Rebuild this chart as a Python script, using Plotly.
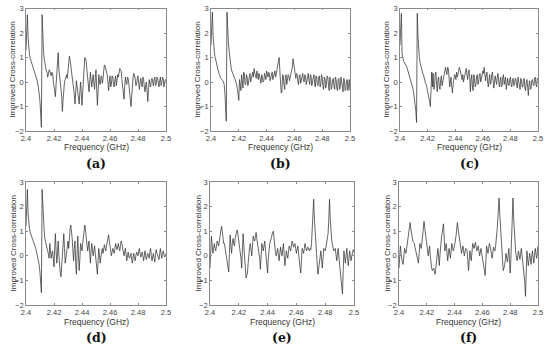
import plotly.graph_objects as go

W, H = 550, 351

# Frequency grid (GHz), 0.5 MHz step (201 samples)
freq = [round(2.4 + 0.0005 * i, 4) for i in range(201)]

# values read at the whole-MHz samples (2.400, 2.401, ... 2.500)
corr_a = [1.3, 2.75, 1.3, 0.97, 0.8, 0.6, 0.45, 0.3, 0.05, -0.25,
          -0.8, -1.85, 1.8, 0.95, 0.55, 0.4, 0.3, 0.45, 0.25, 0.35,
          -0.15, -0.6, 0.3, 1.2, 0.1, -0.3, -1.2, -0.2, 0.1, 0.3,
          0.55, 1.05, 0.7, 0.2, -0.3, -0.9, 0.05, -0.5, -0.9, 0.0,
          -0.95, 0.0, 1.0, 0.85, 0.2, -0.4, 0.4, -0.2, 0.3, -0.3,
          0.5, -0.95, 0.3, -0.1, 0.25, 0.1, 0.7, 0.55, 0.3, -0.35,
          0.25, -0.1, 0.2, -0.2, 0.25, 0.05, 0.2, 0.55, 0.45, -0.2,
          -0.7, 0.2, -0.1, 0.15, -0.3, -1.0, 0.0, 0.35, 0.15, -0.1,
          0.25, -0.3, 0.15, -0.2, 0.1, -0.4, 0.0, -0.8, 0.1, -0.2,
          0.15, -0.15, 0.2, -0.1, 0.15, -0.2, 0.2, -0.05, 0.15, -0.1,
          0.05]
# values read at the half-MHz samples (2.4005, 2.4015, ... 2.4995)
corr_a_half = [2.0, 1.8, 1.1, 0.88, 0.7, 0.52, 0.38, 0.18, -0.1, -0.5,
               -1.2, 2.75, 1.25, 0.7, 0.45, 0.2, 0.5, 0.3, 0.4, 0.05,
               -0.4, -0.1, 0.8, 0.5, -0.2, -0.6, -0.7, 0.0, 0.25, 0.15,
               0.8, 0.9, 0.45, -0.1, -0.5, -0.3, -0.2, -0.7, -0.4, -0.5,
               -0.4, 0.5, 0.95, 0.5, -0.2, 0.0, 0.1, 0.1, -0.05, 0.2,
               -0.3, -0.4, 0.0, 0.2, -0.05, 0.45, 0.65, 0.4, 0.0, 0.0,
               -0.2, 0.25, -0.1, 0.1, -0.15, 0.3, 0.4, 0.5, 0.1, -0.5,
               -0.2, 0.0, 0.2, -0.1, -0.7, -0.4, 0.2, 0.25, -0.15, 0.15,
               -0.05, 0.0, -0.1, 0.2, -0.2, -0.1, -0.4, -0.3, -0.1, 0.05,
               0.0, 0.1, -0.15, 0.2, -0.05, 0.05, -0.15, 0.2, -0.2, 0.1]

corr_b = [1.5, 2.85, 1.4, 1.0, 0.75, 0.5, 0.3, 0.15, 0.1, 0.0,
          -0.45, -1.6, 2.0, 1.3, 0.75, 0.45, 0.28, 0.15, 0.0, -0.3,
          -0.75, -0.2, 0.3, -0.25, 0.35, -0.1, 0.2, 0.05, 0.35, 0.1,
          0.4, 0.55, 0.3, 0.45, 0.1, 0.25, -0.05, 0.2, 0.05, 0.25,
          0.45, 0.2, 0.35, 0.15, 0.4, 0.25, 0.45, 0.35, 0.7, 1.0,
          0.1, -0.4, 0.25, -0.3, 0.3, 0.1, 0.25, 0.2, 0.4, 0.95,
          0.45, 0.15, 0.3, -0.1, 0.3, 0.1, 0.35, 0.0, 0.25, 0.1,
          0.35, -0.1, 0.25, 0.0, 0.3, -0.2, 0.2, -0.15, 0.25, -0.1,
          0.2, -0.3, 0.15, -0.1, 0.2, -0.35, 0.1, -0.2, 0.15, -0.3,
          0.1, -0.35, 0.15, -0.2, 0.0, -0.4, 0.05, -0.3, 0.1, -0.2,
          -0.35]
corr_b_half = [2.2, 1.9, 1.15, 0.85, 0.62, 0.4, 0.2, 0.12, 0.05, -0.1,
               -0.9, 2.85, 1.6, 0.95, 0.58, 0.35, 0.2, 0.08, -0.12, -0.5,
               0.1, -0.35, 0.1, 0.4, -0.1, 0.3, -0.15, 0.3, 0.0, 0.3,
               0.2, 0.35, 0.15, 0.3, 0.35, 0.05, 0.3, 0.0, 0.35, 0.1,
               0.3, 0.4, 0.05, 0.35, 0.1, 0.35, 0.2, 0.5, 0.85, 0.5,
               -0.45, 0.3, -0.1, 0.25, -0.1, 0.3, 0.05, 0.3, 0.6, 0.7,
               0.2, 0.35, 0.0, 0.25, -0.05, 0.3, 0.05, 0.3, -0.1, 0.3,
               0.05, 0.3, -0.15, 0.25, 0.0, 0.25, -0.1, 0.2, -0.2, 0.3,
               -0.15, 0.2, -0.25, 0.25, -0.1, 0.2, -0.3, 0.1, -0.2, 0.2,
               -0.25, 0.1, -0.3, 0.2, -0.2, 0.15, -0.35, 0.05, -0.35, 0.1]

corr_c = [1.5, 2.8, 0.95, 0.82, 0.72, 0.6, 0.42, 0.3, 0.1, -0.15,
          -0.5, -0.9, -1.65, 1.9, 1.0, 0.65, 0.4, 0.3, 0.05, -0.1,
          -0.35, -0.6, -1.0, 0.4, 0.35, -0.2, 0.4, -0.4, 0.2, -0.3,
          0.25, 0.0, 0.4, 0.6, 0.3, 0.55, -0.2, 0.2, -0.45, 0.1,
          0.25, 0.4, 0.3, 0.6, 0.35, 0.1, 0.0, 0.25, 0.55, 0.1,
          0.5, -0.4, 0.3, -0.35, 0.15, -0.1, 0.3, 0.0, 0.35, 0.15,
          0.45, 0.6, 0.05, 0.4, -0.2, 0.3, 0.0, 0.4, -0.25, 0.25,
          -0.1, 0.35, -0.2, 0.2, -0.15, 0.3, 0.05, -0.3, 0.15, -0.15,
          0.2, -0.2, 0.15, -0.1, 0.1, -0.25, 0.05, -0.3, 0.1, -0.2,
          0.15, -0.35, 0.1, -0.55, 0.05, -0.25, 0.1, -0.15, 0.2, -0.2,
          0.1]
corr_c_half = [2.0, 1.15, 0.88, 0.78, 0.66, 0.5, 0.36, 0.2, -0.02, -0.3,
               -0.7, -1.2, 2.8, 1.3, 0.8, 0.5, 0.35, 0.15, -0.05, -0.22,
               -0.5, -0.8, 0.3, -0.2, -0.3, 0.3, -0.1, 0.1, -0.2, 0.1,
               -0.15, 0.3, 0.5, 0.4, 0.6, 0.2, 0.0, -0.2, -0.1, 0.3,
               0.1, 0.2, 0.45, 0.5, 0.2, 0.3, 0.15, 0.4, 0.3, 0.35,
               0.2, 0.1, -0.2, 0.3, -0.2, 0.2, -0.1, 0.3, 0.0, 0.3,
               0.35, 0.3, 0.3, 0.0, 0.1, -0.1, 0.3, 0.05, 0.0, 0.05,
               0.2, 0.05, 0.05, -0.2, 0.2, -0.1, 0.2, 0.0, -0.1, 0.1,
               -0.1, 0.1, -0.15, 0.15, -0.15, 0.2, -0.1, 0.15, -0.2, 0.1,
               -0.25, 0.0, -0.2, -0.1, -0.3, 0.05, -0.1, 0.15, -0.1, 0.15]

corr_d = [1.2, 2.7, 1.3, 0.95, 0.8, 0.6, 0.45, 0.3, 0.05, -0.2,
          -0.7, -1.5, 1.9, 1.0, 0.5, 0.3, 0.1, 0.5, -0.1, 0.2,
          -0.45, 0.9, -0.3, 0.6, -0.5, -0.85, 0.2, 0.9, -0.3, 0.2,
          0.6, 0.9, 1.25, 0.7, -0.2, 0.6, -0.75, 0.8, -0.6, 0.5,
          0.2, 0.8, 1.25, 0.8, 0.2, 0.6, -0.3, 0.5, 0.0, 0.4,
          -0.2, -0.75, 0.3, -0.3, 0.2, 0.1, 0.45, 0.2, 0.6, 0.85,
          0.3, 0.0, 0.3, 0.1, 0.5, 0.25, 0.5, 0.2, 0.6, 0.35,
          0.0, 0.3, -0.2, 0.15, -0.1, 0.1, -0.3, 0.1, -0.2, 0.15,
          0.0, 0.3, -0.05, 0.15, -0.2, 0.2, -0.15, 0.1, -0.1, 0.3,
          -0.2, 0.1, -0.25, 0.25, 0.0, -0.15, 0.3, -0.1, 0.2, -0.05,
          0.1]
corr_d_half = [2.0, 1.7, 1.1, 0.88, 0.7, 0.52, 0.38, 0.18, -0.05, -0.4,
               -1.0, 2.7, 1.4, 0.7, 0.4, 0.2, -0.1, 0.2, 0.1, -0.1,
               0.3, 0.2, 0.1, 0.0, -0.7, -0.3, 0.6, 0.3, -0.1, 0.4,
               0.3, 1.1, 1.0, 0.2, 0.3, -0.3, 0.1, 0.0, -0.1, 0.35,
               0.5, 1.0, 1.05, 0.5, 0.4, 0.1, 0.2, 0.2, 0.2, 0.1,
               -0.5, -0.2, 0.0, -0.05, 0.3, 0.25, 0.3, 0.4, 0.75, 0.6,
               0.1, 0.15, 0.2, 0.3, 0.35, 0.4, 0.3, 0.45, 0.5, 0.15,
               0.15, 0.05, 0.0, -0.05, 0.0, -0.15, -0.05, -0.1, 0.0, 0.1,
               0.2, 0.1, 0.05, 0.0, 0.0, 0.0, 0.0, 0.0, 0.15, 0.0,
               -0.05, -0.1, 0.05, 0.1, -0.1, 0.1, 0.05, 0.1, 0.05, 0.0]

corr_e = [-0.5, 0.8, 0.1, 0.5, 0.2, 0.6, 0.4, 0.8, 1.2, 0.7,
          0.5, 0.1, -0.3, -0.65, 0.85, 0.1, 0.7, 0.4, 0.9, 1.05,
          0.6, 0.3, -0.5, 0.9, -0.1, -0.9, -0.7, 0.2, 0.5, 0.0,
          0.8, 0.6, 0.95, 0.5, 0.3, -0.55, 0.5, 0.2, 0.6, -0.1,
          -0.7, 0.4, 0.6, 0.9, 1.0, 0.2, 0.0, 0.3, -0.2, 0.35,
          0.0, 0.5, -0.4, 0.2, -0.1, 0.4, 0.2, 0.6, 0.35, 0.5,
          0.1, 0.4, -0.2, -0.7, 0.3, 0.1, 0.5, 0.2, 0.35, 0.2,
          0.25, 1.0, 2.3, 0.8, 0.1, -0.75, -0.3, 0.2, -0.5, 0.3,
          0.2, 0.5, 0.9, 2.3, 0.9, 0.45, 0.2, 0.3, -0.2, 0.3,
          -0.4, -0.8, -1.55, 0.2, -0.3, 0.3, -0.4, 0.2, -0.2, 0.2,
          0.15]
corr_e_half = [0.3, 0.4, 0.3, 0.3, 0.4, 0.5, 0.6, 1.0, 1.0, 0.5,
               0.3, -0.1, -0.5, 0.1, 0.4, 0.5, 0.5, 0.7, 1.0, 0.8,
               0.5, -0.1, 0.2, 0.4, -0.5, -0.8, -0.3, 0.35, 0.2, 0.4,
               0.7, 0.75, 0.7, 0.4, -0.1, 0.0, 0.35, 0.4, 0.25, -0.4,
               -0.1, 0.5, 0.75, 0.95, 0.6, 0.1, 0.15, 0.05, 0.1, 0.15,
               0.25, 0.05, -0.1, 0.05, 0.15, 0.3, 0.4, 0.5, 0.45, 0.3,
               0.25, 0.1, -0.45, -0.2, 0.2, 0.3, 0.35, 0.3, 0.25, 0.3,
               0.5, 1.6, 1.5, 0.4, -0.4, -0.5, -0.05, -0.2, -0.1, 0.25,
               0.35, 0.7, 1.5, 1.5, 0.65, 0.3, 0.25, 0.05, 0.05, -0.05,
               -0.6, -1.2, -0.6, -0.05, 0.0, -0.05, -0.1, 0.0, 0.0, 0.25]

corr_f = [-0.5, 0.4, -0.2, -0.35, 0.3, 0.1, 0.5, 1.0, 1.35, 0.9,
          0.6, 0.5, 0.2, 0.0, -0.3, 0.5, 0.3, 0.8, 1.4, 0.9,
          0.6, 0.0, 0.4, -0.35, -0.6, -0.5, -0.75, -0.2, 0.3, -0.4,
          0.5, 0.9, 1.3, 0.2, 0.5, -0.2, 0.3, -0.1, 0.5, 0.2,
          0.4, 0.8, 1.35, 0.8, 0.5, 0.1, 0.4, 0.0, 0.3, 0.2,
          -0.6, 0.2, -0.2, 0.5, 0.3, 0.55, 0.2, 0.4, 0.0, 0.3,
          -0.1, -0.3, -0.8, 0.4, 0.1, 0.5, 0.3, -0.1, 0.35, 0.2,
          0.6, 1.4, 2.35, 1.0, 0.3, -0.6, -0.4, 0.1, -0.25, 0.3,
          -0.7, 0.5, 2.35, 0.8, 0.1, -0.2, 0.2, -0.15, 0.3, -0.2,
          -0.6, -1.65, 0.2, -0.4, 0.1, -0.35, 0.2, -0.3, 0.3, -0.1,
          0.4]
corr_f_half = [0.0, 0.1, -0.3, 0.0, 0.2, 0.3, 0.75, 1.2, 1.1, 0.75,
               0.55, 0.35, 0.1, -0.15, 0.1, 0.4, 0.55, 1.1, 1.15, 0.75,
               0.3, 0.2, 0.0, -0.5, -0.55, -0.65, -0.5, 0.05, -0.05, 0.05,
               0.7, 1.1, 0.75, 0.35, 0.15, 0.05, 0.1, 0.2, 0.35, 0.3,
               0.6, 1.1, 1.1, 0.65, 0.3, 0.25, 0.2, 0.15, 0.25, -0.2,
               -0.2, 0.0, 0.15, 0.4, 0.45, 0.35, 0.3, 0.2, 0.15, 0.1,
               -0.2, -0.55, -0.2, 0.25, 0.3, 0.4, 0.1, 0.15, 0.25, 0.4,
               1.0, 1.9, 1.7, 0.6, -0.2, -0.5, -0.15, -0.1, 0.0, -0.2,
               -0.1, 1.5, 1.5, 0.45, -0.05, 0.0, 0.0, 0.1, 0.05, -0.4,
               -1.1, -0.8, -0.1, -0.15, -0.1, -0.05, -0.05, 0.0, 0.1, 0.15]

panel_labels = ["(a)", "(b)", "(c)", "(d)", "(e)", "(f)"]
whole_series = [corr_a, corr_b, corr_c, corr_d, corr_e, corr_f]
half_series = [corr_a_half, corr_b_half, corr_c_half,
               corr_d_half, corr_e_half, corr_f_half]

x_ticks = [2.4, 2.42, 2.44, 2.46, 2.48, 2.5]
x_tick_text = ["2.4", "2.42", "2.44", "2.46", "2.48", "2.5"]
y_ticks = [-2, -1, 0, 1, 2, 3]


def merge(whole, half):
    out = []
    for w, h in zip(whole, half):
        out += [w, h]
    out.append(whole[-1])
    return out


# pixel boxes of each plot area: (left, right, top, bottom)
boxes = [(26, 166, 8.5, 131), (211, 350, 8.5, 131), (400, 538, 8.5, 131),
         (26, 166, 182, 305), (210, 354, 182, 305), (399, 538, 182, 305)]
ytitle_x = [13, 198, 387, 13, 198, 387]
label_y = [163, 163, 163, 337, 337, 337]
xtitle_y = [147, 147, 147, 322, 322, 322]

fig = go.Figure()
annotations = []
axis_color = "#8a8a8a"
tick_font = dict(family="Liberation Sans, Arial", size=7.5, color="#444444")

for k, (lab, box) in enumerate(zip(panel_labels, boxes)):
    l, r, t, b = box
    n = "" if k == 0 else str(k + 1)
    vals = merge(whole_series[k], half_series[k])
    fig.add_trace(go.Scatter(
        x=freq, y=vals, mode="lines",
        line=dict(color="#333333", width=0.75),
        xaxis="x" + n, yaxis="y" + n, showlegend=False, hoverinfo="skip"))
    xa = dict(domain=[l / W, r / W], range=[2.4, 2.5], anchor="y" + n,
              tickvals=x_ticks, ticktext=x_tick_text, ticks="inside", ticklen=2,
              tickcolor=axis_color, showline=True, linecolor=axis_color,
              linewidth=0.8, mirror="ticks", showgrid=False, zeroline=False,
              tickfont=tick_font, automargin=False)
    ya = dict(domain=[1 - b / H, 1 - t / H], range=[-2, 3], anchor="x" + n,
              tickvals=y_ticks, ticks="inside", ticklen=2,
              tickcolor=axis_color, showline=True, linecolor=axis_color,
              linewidth=0.8, mirror="ticks", showgrid=False, zeroline=False,
              tickfont=tick_font, automargin=False)
    fig.layout["xaxis" + n] = xa
    fig.layout["yaxis" + n] = ya
    cx = (l + r) / 2
    annotations.append(dict(
        text="Improved Cross-correlation", textangle=-90, showarrow=False,
        xref="paper", yref="paper", x=ytitle_x[k] / W, y=1 - (t + b) / 2 / H,
        xanchor="center", yanchor="middle",
        font=dict(family="Liberation Sans, Arial", size=8, color="#333333")))
    annotations.append(dict(
        text="Frequency (GHz)", showarrow=False,
        xref="paper", yref="paper", x=cx / W, y=1 - xtitle_y[k] / H,
        xanchor="center", yanchor="middle",
        font=dict(family="Liberation Sans, Arial", size=8.5, color="#333333")))
    annotations.append(dict(
        text="<b>" + lab + "</b>", showarrow=False,
        xref="paper", yref="paper", x=cx / W, y=1 - label_y[k] / H,
        xanchor="center", yanchor="middle",
        font=dict(family="DejaVu Serif, Liberation Serif", size=12.5, color="#111111")))

fig.update_layout(
    width=W, height=H, margin=dict(l=0, r=0, t=0, b=0),
    paper_bgcolor="white", plot_bgcolor="white",
    annotations=annotations)

fig.write_html("out.html", config={"displayModeBar": False},
               post_script="document.body.style.margin='0px';"
                           "document.body.style.overflow='hidden';")
